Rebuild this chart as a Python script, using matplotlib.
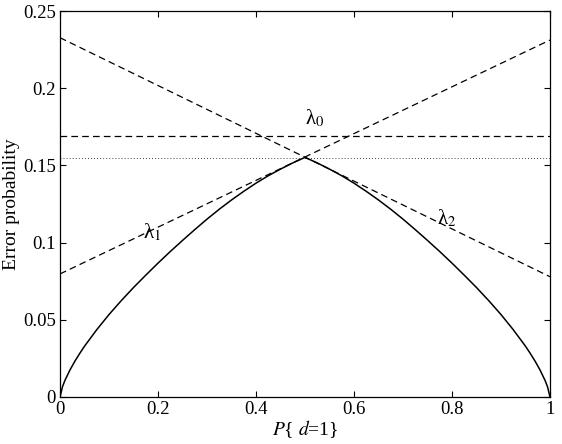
import numpy as np
import matplotlib
matplotlib.use("Agg")
import matplotlib.pyplot as plt

plt.rcParams['font.family'] = 'Liberation Serif'
plt.rcParams['mathtext.fontset'] = 'stix'
plt.rcParams['lines.scale_dashes'] = False

# Error curve (left half; right half is close to a mirror)
p_left = [0.0, 0.005, 0.01, 0.02, 0.03, 0.04, 0.05, 0.075, 0.10, 0.125, 0.15,
          0.175, 0.20, 0.225, 0.25, 0.275, 0.30, 0.325, 0.35, 0.375, 0.40,
          0.425, 0.45, 0.475, 0.50]
err_left = [0.0, 0.0066, 0.0107, 0.0173, 0.0230, 0.0281, 0.0329, 0.0436, 0.0534,
            0.0624, 0.0709, 0.0789, 0.0867, 0.0942, 0.1014, 0.1084, 0.1152,
            0.1216, 0.1276, 0.1332, 0.1385, 0.1433, 0.1476, 0.1516, 0.1552]
p_right = [0.50, 0.525, 0.55, 0.575, 0.60, 0.625, 0.65, 0.675, 0.70, 0.725,
           0.75, 0.775, 0.80, 0.825, 0.85, 0.875, 0.90, 0.925, 0.95, 0.96,
           0.97, 0.98, 0.99, 0.995, 1.0]
err_right = [0.1552, 0.1516, 0.1476, 0.1433, 0.1385, 0.1332, 0.1276, 0.1216,
             0.1152, 0.1084, 0.1014, 0.0942, 0.0867, 0.0789, 0.0709, 0.0624,
             0.0534, 0.0436, 0.0329, 0.0281, 0.0230, 0.0173, 0.0107, 0.0066, 0.0]

# straight lines: value at p=0 and p=1
lam0 = [0.169, 0.169]
lam1 = [0.0797, 0.2312]
lam2 = [0.2327, 0.0779]
bayes_max = 0.155
ends = [0.0, 1.0]

fig = plt.figure(figsize=(5.62, 4.44), dpi=100)
ax = fig.add_axes([0.1068, 0.1059, 0.8718, 0.8693])

ax.plot(p_left + p_right[1:], err_left + err_right[1:], 'k-', lw=1.1)
dash = (4.8, 3.0)
ax.plot(ends, lam0, 'k', lw=0.9, dashes=dash)
ax.plot(ends, lam1, 'k', lw=0.9, dashes=dash)
ax.plot(ends, lam2, 'k', lw=0.9, dashes=dash)
ax.plot(ends, [bayes_max, bayes_max], 'k', lw=0.6, dashes=(0.6, 1.6))

ax.text(0.52, 0.1805, 'λ$_0$', fontsize=15, ha='center', va='center')
ax.text(0.187, 0.1065, 'λ$_1$', fontsize=15, ha='center', va='center')
ax.text(0.789, 0.1155, 'λ$_2$', fontsize=15, ha='center', va='center')

ax.set_xlim(0, 1)
ax.set_ylim(0, 0.25)
ax.set_xticks([0, 0.2, 0.4, 0.6, 0.8, 1])
ax.set_xticklabels(['0', '0.2', '0.4', '0.6', '0.8', '1'])
ax.set_yticks([0, 0.05, 0.1, 0.15, 0.2, 0.25])
ax.set_yticklabels(['0', '0.05', '0.1', '0.15', '0.2', '0.25'])
ax.tick_params(direction='in', length=4, width=0.8, top=True, right=True,
               labelsize=13.5, pad=3)
for s in ax.spines.values():
    s.set_linewidth(0.9)

ax.set_xlabel('$P${ $d$=1}', fontsize=14, labelpad=0)
ax.set_ylabel('Error probability', fontsize=14, labelpad=2)

fig.savefig('out.png', dpi=100)
